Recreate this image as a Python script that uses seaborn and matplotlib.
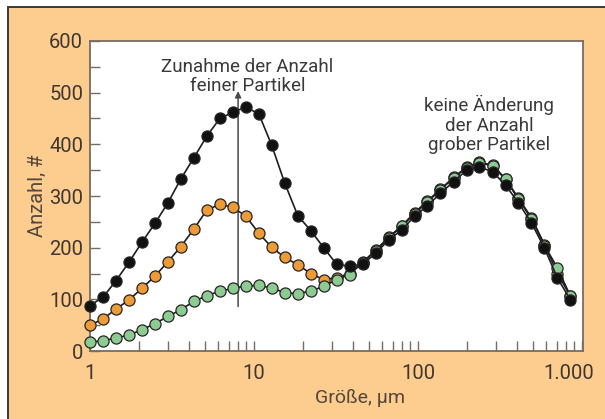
import matplotlib
matplotlib.use("Agg")
import matplotlib.pyplot as plt
import matplotlib.transforms as mtransforms
from matplotlib.patches import Rectangle
from matplotlib.ticker import FixedLocator, MultipleLocator, NullFormatter
import numpy as np
import pandas as pd
import seaborn as sns

# Particle size classes (µm)
sizes = [1.0, 1.2, 1.44, 1.73, 2.07, 2.49, 2.99, 3.58, 4.30, 5.16,
         6.19, 7.43, 8.92, 10.7, 12.8, 15.4, 18.5, 22.2, 26.6, 31.9,
         38.3, 46.0, 55.2, 66.2, 79.5, 95.4, 114, 137, 165, 198,
         237, 285, 342, 410, 492, 591, 709, 851]

# Particle counts per size class
count_low = [17, 20, 25, 31, 41, 53, 67, 80, 96, 107,
             116, 121, 126, 127, 122, 113, 111, 116, 125, 138,
             148, 171, 194, 219, 241, 266, 288, 312, 335, 355,
             364, 359, 332, 294, 256, 204, 161, 106]
count_mid = [50, 62, 81, 99, 121, 145, 173, 202, 236, 273,
             284, 278, 261, 228, 201, 181, 167, 150, 138, 142,
             150, 172, 195, 220, 242, 268, 290, 313, 336, 356,
             365, 360, 333, 296, 258, 206, 150, 106]
count_high = [88, 104, 136, 172, 210, 247, 287, 333, 374, 416,
              450, 462, 472, 459, 399, 325, 262, 233, 200, 168,
              164, 168, 189, 215, 234, 261, 281, 305, 328, 350,
              356, 347, 321, 287, 248, 199, 141, 99]

series_fill = {"mid": "#EE9A36", "low": "#8DCB92", "high": "#111111"}

x_ticks = [1, 10, 100, 1000]
x_ticklabels = ["1", "10", "100", "1.000"]
y_ticks = [0, 100, 200, 300, 400, 500, 600]

sns.set_style("white")
plt.rcParams["font.family"] = ["Roboto", "DejaVu Sans"]

W, H = 605, 419
fig = plt.figure(figsize=(W / 100, H / 100), dpi=100)
fig.patch.set_facecolor("white")

# Framed orange panel behind the plot
panel = Rectangle((7.5 / W, -0.1), 1.2, (H - 7.5) / H + 0.1,
                  transform=fig.transFigure, facecolor="#FDCC8F",
                  edgecolor="#3a3a3a", linewidth=1.4, zorder=-5)
fig.patches.append(panel)

ax = fig.add_axes([90 / W, (H - 351) / H, 493 / W, 310 / H])
ax.set_zorder(1)
ax.set_facecolor("white")

df = pd.DataFrame({"size": sizes, "low": count_low, "mid": count_mid,
                   "high": count_high})

for key in ["mid", "low", "high"]:
    sns.lineplot(data=df, x="size", y=key, ax=ax, color="#1e1e1e",
                 linewidth=1.2, marker="o", markersize=8.0,
                 markerfacecolor=series_fill[key], markeredgecolor="#262626",
                 markeredgewidth=0.9, clip_on=False, zorder=3)

ax.set_xscale("log")
ax.set_xlim(1, 1015)
ax.set_ylim(0, 600)

ax.xaxis.set_major_locator(FixedLocator(x_ticks))
ax.set_xticklabels(x_ticklabels)
ax.xaxis.set_minor_formatter(NullFormatter())
ax.yaxis.set_major_locator(FixedLocator(y_ticks))
ax.yaxis.set_minor_locator(MultipleLocator(50))

tick_col = "#3f372f"
frame_col = "#7a6c60"
ax.tick_params(axis="both", which="both", direction="in", length=7.2,
               width=1.0, color=frame_col, labelcolor=tick_col,
               labelsize=14.5)
ax.tick_params(axis="x", which="both", pad=9, bottom=True, top=False)
ax.tick_params(axis="y", which="both", pad=5, left=True, right=False)

# the last x label sits left of its tick so it stays inside the panel
for lbl in ax.get_xticklabels():
    if lbl.get_text() == "1.000":
        lbl.set_transform(lbl.get_transform() +
                          mtransforms.ScaledTranslation(-13 / 100, 0, fig.dpi_scale_trans))

for side in ["left", "right", "top", "bottom"]:
    ax.spines[side].set_color(frame_col)
    ax.spines[side].set_linewidth(1.3)

ax.set_xlabel("Größe, µm", fontsize=14, color="#54473c")
ax.xaxis.set_label_coords(0.548, -0.122)
ax.set_ylabel("Anzahl, #", fontsize=14.5, color="#54473c")
ax.yaxis.set_label_coords(-0.1075, 0.50)
ax.yaxis.label.set_va("center")

# Annotations
ax.annotate("", xy=(8.0, 503), xytext=(8.0, 86),
            arrowprops=dict(arrowstyle="-|>", color="#4a4a4a", lw=1.1,
                            mutation_scale=9, shrinkA=0, shrinkB=0),
            zorder=2)
ax.text(9.1, 531, "Zunahme der Anzahl\nfeiner Partikel", ha="center",
        va="center", fontsize=13.5, color="#3a3a3a", linespacing=1.1,
        zorder=5)
ax.text(271, 438, "keine Änderung\nder Anzahl\ngrober Partikel",
        ha="center", va="center", fontsize=13.5, color="#3a3a3a",
        linespacing=1.12, zorder=5)

fig.savefig("out.png", dpi=100, facecolor=fig.get_facecolor())
